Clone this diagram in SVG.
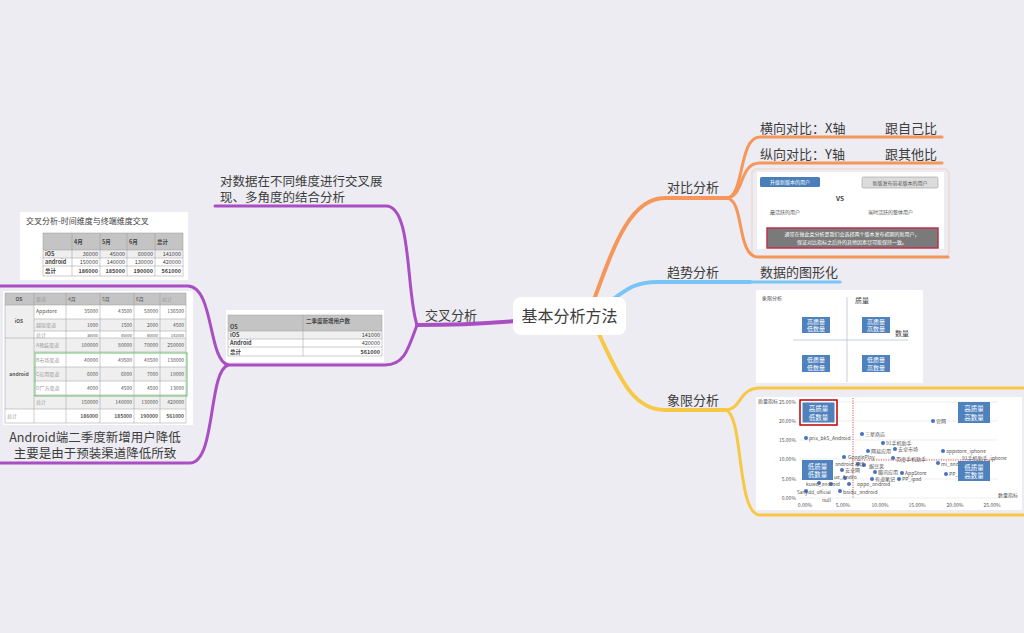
<svg xmlns="http://www.w3.org/2000/svg" width="1024" height="633" viewBox="0 0 1024 633">
<style>
.t{font-family:"Noto Sans CJK SC","Noto Sans",sans-serif;fill:#3c3c3c}
.m{font-size:13px}
.s{font-size:5.5px;fill:#444}
.xs{font-size:5px;fill:#555}
.c{fill:none;stroke-linecap:round;stroke-linejoin:round}
.o{stroke:#f5965a}
.b{stroke:#79c4f6}
.y{stroke:#f7c845}
.p{stroke:#a94fc3}
.g{fill:none;stroke:#9a9a9a;stroke-width:0.5}
.hd{fill:#c4c4c4}
.lt{fill:#efefef}
.qb{fill:#4f81bd}
.pt{fill:#4472c4}
.gl{stroke:#e2e2e2;stroke-width:0.6}
</style>
<rect width="1024" height="633" fill="#edecf2"/>

<g id="connectors">
  <path class="c o" stroke-width="4" d="M592,305 C612,252 628,198 665,198 H726"/>
  <path class="c o" stroke-width="3" d="M726,198 C745,198 738,137 760,137 H942"/>
  <path class="c o" stroke-width="3" d="M726,198 C745,198 738,163 760,163 H942"/>
  <path class="c o" stroke-width="3" d="M726,198 C745,198 736,257 758,257 H948"/>
  <path class="c b" stroke-width="4" d="M612,300 C628,288 636,282 658,282 H750"/>
  <path class="c b" stroke-width="3" d="M750,282 H840"/>
  <path class="c y" stroke-width="4" d="M598,332 C622,385 636,410 665,410 H725"/>
  <path class="c y" stroke-width="3" d="M725,410 C742,410 738,388 760,388 H1024"/>
  <path class="c y" stroke-width="3" d="M725,410 C744,412 736,515 760,515 H1024"/>
  <path class="c p" stroke-width="4" d="M516,321 C480,324 450,325 417,325"/>
  <path class="c p" stroke-width="3" d="M417,325 C406,292 412,206 386,206 H215"/>
  <path class="c p" stroke-width="3" d="M417,325 C408,350 404,365 385,365 H228"/>
  <path class="c p" stroke-width="3" d="M228,365 C208,360 214,287 188,286 H0"/>
  <path class="c p" stroke-width="3" d="M228,365 C208,372 216,462 190,463 H0"/>
</g>

<g id="center">
  <rect x="513" y="297" width="113" height="38" rx="8" fill="#fff"/>
  <text class="t" x="569.5" y="322" font-size="16" text-anchor="middle" fill="#333">基本分析方法</text>
</g>

<g id="duibi">
  <text class="t m" x="667" y="192">对比分析</text>
</g>
<g id="hengxiang">
  <text class="t m" x="760" y="133">横向对比：X轴</text>
  <text class="t m" x="937" y="133" text-anchor="end">跟自己比</text>
</g>
<g id="zongxiang">
  <text class="t m" x="760" y="159">纵向对比：Y轴</text>
  <text class="t m" x="937" y="159" text-anchor="end">跟其他比</text>
</g>
<g id="duibi-img">
  <rect x="752" y="169" width="197" height="88" rx="5" fill="none" stroke="#f5965a" stroke-opacity="0.22" stroke-width="1.5"/>
  <rect x="757" y="172" width="187" height="77" fill="#fff"/>
  <rect x="760" y="177" width="60" height="10" rx="1.5" fill="#4a7ebb"/>
  <text class="t xs" x="790" y="184" text-anchor="middle" style="fill:#fff">升级新版本的用户</text>
  <rect x="862" y="177" width="76" height="11" rx="1.5" fill="#dcdcdc" stroke="#9c9c9c" stroke-width="0.6"/>
  <text class="t xs" x="900" y="184.5" text-anchor="middle">新版发布前老版本的用户</text>
  <text class="t" x="840" y="201" font-size="6.5" font-weight="bold" text-anchor="middle" fill="#c0392b">VS</text>
  <text class="t xs" x="770" y="214">最活跃的用户</text>
  <text class="t xs" x="868" y="214">当时活跃的整体用户</text>
  <rect x="767" y="228" width="171" height="20" fill="#7a7a7a" stroke="#c0304f" stroke-width="1.5"/>
  <text class="t xs" x="852" y="236" text-anchor="middle" style="fill:#fff">通常在做此类分析是我们会选择两个版本发布初期的新用户，</text>
  <text class="t xs" x="852" y="244" text-anchor="middle" style="fill:#fff">保证对比指标之后外的其他因素尽可能保持一致。</text>
</g>

<g id="qushi">
  <text class="t m" x="667" y="277">趋势分析</text>
</g>
<g id="tuxinghua">
  <text class="t m" x="760" y="277">数据的图形化</text>
</g>

<g id="xiangxian">
  <text class="t m" x="667" y="405">象限分析</text>
</g>
<g id="quadrant-img">
  <rect x="756" y="290" width="167" height="93" fill="#fff"/>
  <text class="t xs" x="762" y="300">象限分析</text>
  <line x1="847" y1="297" x2="847" y2="382" stroke="#b8c4d4" stroke-width="0.8"/>
  <line x1="793" y1="340" x2="908" y2="340" stroke="#b8c4d4" stroke-width="0.8"/>
  <text class="t" x="855" y="303" font-size="7" fill="#444">质量</text>
  <text class="t" x="895" y="336" font-size="7" fill="#444">数量</text>
  <rect class="qb" x="802" y="317" width="28" height="16"/>
  <rect class="qb" x="862" y="317" width="28" height="16"/>
  <rect class="qb" x="802" y="355" width="28" height="17"/>
  <rect class="qb" x="862" y="355" width="28" height="17"/>
  <g class="t" font-size="6" text-anchor="middle">
    <text x="816" y="324" style="fill:#fff">高质量</text><text x="816" y="331" style="fill:#fff">低数量</text>
    <text x="876" y="324" style="fill:#fff">高质量</text><text x="876" y="331" style="fill:#fff">高数量</text>
    <text x="816" y="362" style="fill:#fff">低质量</text><text x="816" y="369.5" style="fill:#fff">低数量</text>
    <text x="876" y="362" style="fill:#fff">低质量</text><text x="876" y="369.5" style="fill:#fff">高数量</text>
  </g>
</g>
<g id="scatter-img">
  <rect x="756" y="397" width="266" height="113" fill="#fff"/>
  <line class="gl" x1="800" y1="402" x2="998" y2="402"/>
  <line class="gl" x1="800" y1="421" x2="998" y2="421"/>
  <line class="gl" x1="800" y1="440" x2="998" y2="440"/>
  <line class="gl" x1="800" y1="459" x2="998" y2="459"/>
  <line class="gl" x1="800" y1="479" x2="998" y2="479"/>
  <line class="gl" x1="800" y1="498" x2="998" y2="498"/>
  <g class="t xs" text-anchor="end">
    <text x="796" y="404">25.00%</text><text x="796" y="423">20.00%</text><text x="796" y="442">15.00%</text>
    <text x="796" y="461">10.00%</text><text x="796" y="481">5.00%</text><text x="796" y="500">0.00%</text>
  </g>
  <g class="t xs" text-anchor="middle">
    <text x="805" y="507">0.00%</text><text x="843" y="507">5.00%</text><text x="880" y="507">10.00%</text>
    <text x="917" y="507">15.00%</text><text x="955" y="507">20.00%</text><text x="992" y="507">25.00%</text>
  </g>
  <text class="t xs" x="758" y="403">质量指标</text>
  <text class="t xs" x="998" y="497">数量指标</text>
  <line x1="853" y1="398" x2="853" y2="498" stroke="#d03030" stroke-width="0.8" stroke-dasharray="1.2,1.2"/>
  <line x1="852" y1="460" x2="996" y2="460" stroke="#d03030" stroke-width="0.8" stroke-dasharray="1.2,1.2"/>
  <g>
    <circle class="pt" cx="933" cy="421" r="2"/><circle class="pt" cx="862" cy="434" r="2"/>
    <circle class="pt" cx="806" cy="438" r="2"/><circle class="pt" cx="883" cy="443" r="2"/>
    <circle class="pt" cx="895" cy="449" r="2"/><circle class="pt" cx="943" cy="451" r="2"/>
    <circle class="pt" cx="868" cy="451" r="2"/><circle class="pt" cx="844" cy="457" r="2"/>
    <circle class="pt" cx="893" cy="458" r="2"/><circle class="pt" cx="938" cy="463" r="2"/>
    <circle class="pt" cx="858" cy="464" r="2"/><circle class="pt" cx="864" cy="465" r="2"/>
    <circle class="pt" cx="842" cy="470" r="2"/><circle class="pt" cx="875" cy="472" r="2"/>
    <circle class="pt" cx="902" cy="473" r="2"/><circle class="pt" cx="946" cy="474" r="2"/>
    <circle class="pt" cx="872" cy="479" r="2"/><circle class="pt" cx="899" cy="479" r="2"/>
    <circle class="pt" cx="849" cy="484" r="2"/><circle class="pt" cx="819" cy="483" r="2"/>
    <circle class="pt" cx="840" cy="491" r="2"/><circle class="pt" cx="806" cy="491" r="2"/>
    <circle class="pt" cx="831" cy="484" r="2"/><circle class="pt" cx="845" cy="478" r="2"/>
  </g>
  <g class="t xs">
    <text x="936" y="423">官网</text><text x="865" y="436">三星商店</text>
    <text x="809" y="440">pris_bk5_Android</text><text x="886" y="445">91手机助手</text>
    <text x="898" y="451">安卓市场</text><text x="946" y="453">appstore_iphone</text>
    <text x="871" y="453">网易应用</text><text x="848" y="459">GooglePlay</text>
    <text x="896" y="461">百度手机助手</text><text x="962" y="459.5">91手机助手_iphone</text>
    <text x="941" y="466">mi_andr</text><text x="835" y="466">android 市场</text>
    <text x="869" y="467.5">豌豆荚</text><text x="845" y="472">安卓网</text>
    <text x="878" y="474">腾讯应用</text><text x="905" y="475">AppStore</text>
    <text x="949" y="476">PP_i</text><text x="875" y="481">有道笔记</text>
    <text x="902" y="481">PP_ipad</text><text x="857" y="486">oppo_android</text>
    <text x="834" y="478.5">ue_Andro</text><text x="806" y="486">kuwo_android</text>
    <text x="843" y="494">baidu_android</text><text x="797" y="494" font-size="4.5">Sanyidd_official</text>
    <text x="822" y="502">null</text>
  </g>
  <rect x="800" y="400" width="37" height="25" fill="#fff" stroke="#c00000" stroke-width="1.5"/>
  <rect class="qb" x="802.5" y="402.5" width="32" height="20"/>
  <rect class="qb" x="958" y="402" width="32" height="21"/>
  <rect class="qb" x="802" y="460" width="31" height="20"/>
  <rect class="qb" x="958" y="461" width="32" height="20"/>
  <g class="t" font-size="6.5" text-anchor="middle">
    <text x="818.5" y="411" style="fill:#fff">高质量</text><text x="818.5" y="419.5" style="fill:#fff">低数量</text>
    <text x="974" y="411" style="fill:#fff">高质量</text><text x="974" y="419.5" style="fill:#fff">高数量</text>
    <text x="817.5" y="468.5" style="fill:#fff">低质量</text><text x="817.5" y="477" style="fill:#fff">低数量</text>
    <text x="974" y="469.5" style="fill:#fff">低质量</text><text x="974" y="478" style="fill:#fff">高数量</text>
  </g>
</g>

<g id="jiaocha">
  <text class="t m" x="425" y="320">交叉分析</text>
</g>
<g id="weidu">
  <text class="t" x="220" y="186" font-size="12.5">对数据在不同维度进行交叉展</text>
  <text class="t" x="220" y="202" font-size="12.5">现、多角度的结合分析</text>
</g>
<g id="table3">
  <rect x="226" y="310" width="158" height="52" fill="#fff"/>
  <rect class="hd" x="228" y="315" width="154" height="16"/>
  <rect class="lt" x="228" y="331" width="154" height="8"/>
  <rect class="g" x="228" y="315" width="154" height="41"/>
  <line class="g" x1="303" y1="315" x2="303" y2="356"/>
  <line class="g" x1="228" y1="331" x2="382" y2="331"/>
  <line class="g" x1="228" y1="339" x2="382" y2="339"/>
  <line class="g" x1="228" y1="347" x2="382" y2="347"/>
  <g class="t s" font-weight="bold">
    <text x="230" y="329">OS</text><text x="306" y="323">二季度新增用户数</text>
    <text x="230" y="337">iOS</text><text x="230" y="345">Android</text><text x="230" y="354">总计</text>
  </g>
  <g class="t s" text-anchor="end">
    <text x="380" y="337">141000</text><text x="380" y="345">420000</text>
    <text x="380" y="354" font-weight="bold">561000</text>
  </g>
</g>
<g id="table1">
  <rect x="20" y="212" width="168" height="68" fill="#fff"/>
  <text class="t" x="26" y="224" font-size="8" fill="#555">交叉分析-时间维度与终端维度交叉</text>
  <rect class="hd" x="43" y="233" width="140" height="17"/>
  <rect class="lt" x="43" y="250" width="140" height="8"/>
  <rect class="g" x="43" y="233" width="140" height="43"/>
  <line class="g" x1="72" y1="233" x2="72" y2="276"/><line class="g" x1="100" y1="233" x2="100" y2="276"/>
  <line class="g" x1="127" y1="233" x2="127" y2="276"/><line class="g" x1="155" y1="233" x2="155" y2="276"/>
  <line class="g" x1="43" y1="250" x2="183" y2="250"/><line class="g" x1="43" y1="258" x2="183" y2="258"/>
  <line class="g" x1="43" y1="266" x2="183" y2="266"/>
  <g class="t s" font-weight="bold">
    <text x="74" y="244">4月</text><text x="102" y="244">5月</text><text x="129" y="244">6月</text><text x="157" y="244">总计</text>
    <text x="45" y="256">iOS</text><text x="45" y="264">android</text><text x="45" y="273">总计</text>
  </g>
  <g class="t s" text-anchor="end">
    <text x="98" y="256">36000</text><text x="125" y="256">45000</text><text x="153" y="256">60000</text><text x="181" y="256">141000</text>
    <text x="98" y="264">150000</text><text x="125" y="264">140000</text><text x="153" y="264">130000</text><text x="181" y="264">420000</text>
  </g>
  <g class="t s" text-anchor="end" font-weight="bold">
    <text x="98" y="273">186000</text><text x="125" y="273">185000</text><text x="153" y="273">190000</text><text x="181" y="273">561000</text>
  </g>
</g>
<g id="android-topic">
  <rect x="3" y="291" width="190" height="134" fill="#fff"/>
  <rect class="hd" x="5" y="293" width="181" height="12"/>
  <rect class="lt" x="34" y="319" width="152" height="12"/>
  <rect class="lt" x="34" y="338" width="152" height="14"/>
  <rect class="lt" x="34" y="367" width="152" height="14"/>
  <rect class="lt" x="34" y="395" width="152" height="14"/>
  <rect class="lt" x="5" y="305" width="29" height="104"/>
  <rect class="g" x="5" y="293" width="181" height="130"/>
  <line class="g" x1="34" y1="293" x2="34" y2="423"/><line class="g" x1="66" y1="293" x2="66" y2="423"/>
  <line class="g" x1="100" y1="293" x2="100" y2="423"/><line class="g" x1="134" y1="293" x2="134" y2="423"/>
  <line class="g" x1="160" y1="293" x2="160" y2="423"/>
  <line class="g" x1="5" y1="305" x2="186" y2="305"/>
  <line class="g" x1="34" y1="319" x2="186" y2="319"/><line class="g" x1="34" y1="331" x2="186" y2="331"/>
  <line class="g" x1="5" y1="338" x2="186" y2="338"/><line class="g" x1="34" y1="352" x2="186" y2="352"/>
  <line class="g" x1="34" y1="367" x2="186" y2="367"/><line class="g" x1="34" y1="381" x2="186" y2="381"/>
  <line class="g" x1="34" y1="395" x2="186" y2="395"/><line class="g" x1="5" y1="409" x2="186" y2="409"/>
  <g class="t xs" font-weight="bold">
    <text x="19" y="301" text-anchor="middle">OS</text>
    <text x="19" y="323" text-anchor="middle">iOS</text>
    <text x="19" y="376" text-anchor="middle">android</text>
  </g>
  <g class="t xs">
    <text x="36" y="301" style="fill:#999">渠道</text><text x="68" y="301">4月</text><text x="102" y="301">5月</text>
    <text x="136" y="301">6月</text><text x="162" y="301" style="fill:#999">总计</text>
    <text x="36" y="313">Appstore</text><text x="36" y="327" style="fill:#999">越狱渠道</text>
    <text x="36" y="336.5" style="fill:#999">总计</text>
    <text x="36" y="347" style="fill:#999">A预装渠道</text><text x="36" y="361.5" style="fill:#999">B市场渠道</text>
    <text x="36" y="376" style="fill:#999">C应用渠道</text><text x="36" y="390" style="fill:#999">D厂方渠道</text>
    <text x="36" y="404" style="fill:#999">总计</text><text x="7" y="418" style="fill:#999">总计</text>
  </g>
  <g class="t xs" text-anchor="end">
    <text x="98" y="313">35000</text><text x="132" y="313">43500</text><text x="158" y="313">58000</text><text x="184" y="313">136500</text>
    <text x="98" y="327">1000</text><text x="132" y="327">1500</text><text x="158" y="327">2000</text><text x="184" y="327">4500</text>
    <text x="98" y="336.5" font-size="4">36000</text><text x="132" y="336.5" font-size="4">45000</text><text x="158" y="336.5" font-size="4">60000</text><text x="184" y="336.5" font-size="4">141000</text>
    <text x="98" y="347">100000</text><text x="132" y="347">80000</text><text x="158" y="347">70000</text><text x="184" y="347">250000</text>
    <text x="98" y="361.5">40000</text><text x="132" y="361.5">49500</text><text x="158" y="361.5">48500</text><text x="184" y="361.5">138000</text>
    <text x="98" y="376">6000</text><text x="132" y="376">6000</text><text x="158" y="376">7000</text><text x="184" y="376">19000</text>
    <text x="98" y="390">4000</text><text x="132" y="390">4500</text><text x="158" y="390">4500</text><text x="184" y="390">13000</text>
    <text x="98" y="404">150000</text><text x="132" y="404">140000</text><text x="158" y="404">130000</text><text x="184" y="404">420000</text>
  </g>
  <g class="t xs" text-anchor="end" font-weight="bold">
    <text x="98" y="418">186000</text><text x="132" y="418">185000</text><text x="158" y="418">190000</text><text x="184" y="418">561000</text>
  </g>
  <rect x="35" y="353" width="152" height="43" fill="none" stroke="#6cc070" stroke-width="1"/>
  <text class="t" x="95" y="442" font-size="12.5" text-anchor="middle">Android端二季度新增用户降低</text>
  <text class="t" x="95" y="458" font-size="12.5" text-anchor="middle">主要是由于预装渠道降低所致</text>
</g>
</svg>
